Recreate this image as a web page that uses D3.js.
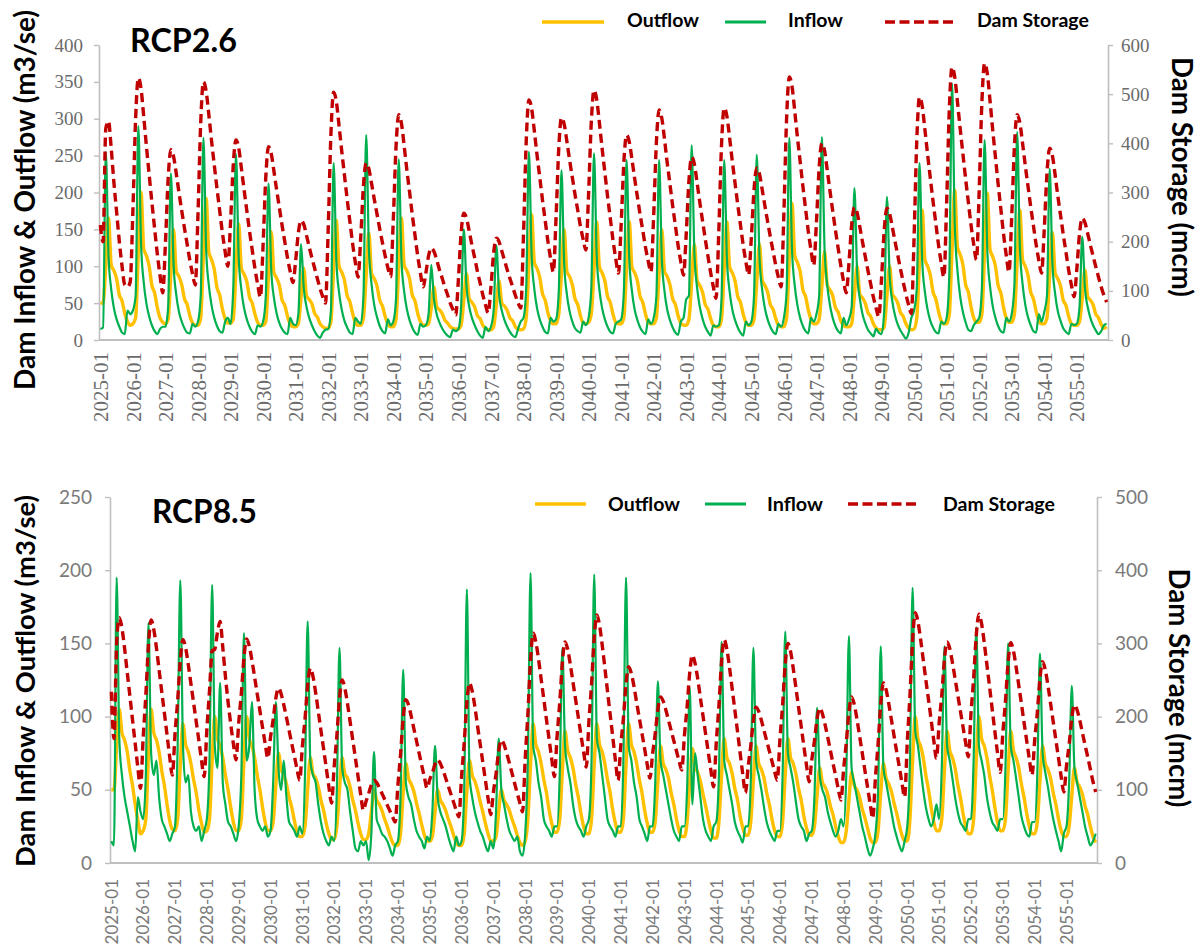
<!DOCTYPE html>
<html>
<head>
<meta charset="utf-8">
<script src="https://cdn.jsdelivr.net/npm/d3@7"></script>
<style>
  body { margin: 0; background: #fff; }
  svg { display: block; }
</style>
</head>
<body>
<svg id="chart" width="1202" height="947"></svg>
<script>
// monthly categories 2025-01 .. 2055-12
const months = []
for (let y = 2025; y <= 2055; y++) {
    for (let m = 1; m <= 12; m++) months.push(`${y}-${String(m).padStart(2, "0")}`)
}
const yearTicks = months.filter((m) => m.endsWith("-01"))

const seriesNames = ["Outflow", "Inflow", "Dam Storage"]
const leftTicks26 = [0, 50, 100, 150, 200, 250, 300, 350, 400]
const rightTicks26 = [0, 100, 200, 300, 400, 500, 600]
const leftTicks85 = [0, 50, 100, 150, 200, 250]
const rightTicks85 = [0, 100, 200, 300, 400, 500]

// RCP2.6 (m3/s and mcm), one row per year Jan..Dec
const rcp26Outflow = [
    50, 50, 100, 165, 102, 94, 83, 61, 53, 36, 25, 20,
    22, 30, 120, 200, 124, 114, 100, 74, 64, 44, 30, 24,
    22, 28, 90, 150, 93, 86, 75, 56, 48, 33, 23, 20,
    20, 30, 115, 192, 119, 109, 96, 71, 61, 42, 29, 23,
    23, 28, 94, 157, 97, 89, 79, 58, 50, 35, 24, 20,
    20, 25, 88, 147, 91, 84, 74, 54, 47, 32, 22, 18,
    18, 22, 58, 97, 60, 55, 49, 36, 31, 22, 18, 16,
    16, 25, 97, 162, 100, 92, 81, 60, 52, 36, 24, 20,
    20, 30, 87, 145, 90, 83, 73, 54, 46, 32, 22, 18,
    18, 28, 99, 165, 102, 94, 83, 61, 53, 36, 25, 20,
    20, 22, 43, 72, 45, 41, 36, 27, 23, 18, 16, 15,
    15, 20, 54, 90, 56, 51, 45, 33, 29, 20, 16, 14,
    14, 18, 48, 80, 50, 46, 40, 30, 26, 18, 15, 14,
    15, 30, 102, 170, 105, 97, 85, 63, 54, 37, 26, 22,
    22, 35, 90, 150, 93, 86, 75, 56, 48, 33, 23, 22,
    24, 35, 96, 160, 99, 91, 80, 59, 51, 35, 24, 22,
    22, 30, 96, 160, 99, 91, 80, 59, 51, 35, 24, 22,
    22, 30, 90, 150, 93, 86, 75, 56, 48, 33, 23, 20,
    20, 28, 78, 130, 81, 74, 65, 48, 42, 29, 20, 18,
    18, 28, 96, 160, 99, 91, 80, 59, 51, 35, 24, 20,
    20, 28, 78, 130, 81, 74, 65, 48, 42, 29, 20, 18,
    18, 30, 111, 185, 115, 105, 93, 68, 59, 41, 28, 22,
    22, 28, 72, 120, 74, 68, 60, 44, 38, 26, 20, 18,
    18, 22, 60, 100, 62, 57, 50, 37, 32, 22, 16, 14,
    14, 18, 60, 100, 62, 57, 50, 37, 32, 22, 16, 14,
    15, 30, 106, 176, 109, 100, 88, 65, 56, 39, 26, 22,
    22, 35, 122, 203, 126, 116, 102, 75, 65, 45, 30, 24,
    24, 35, 119, 199, 123, 113, 100, 74, 64, 44, 30, 24,
    24, 35, 106, 176, 109, 100, 88, 65, 56, 39, 26, 22,
    22, 30, 88, 146, 91, 83, 73, 54, 47, 32, 22, 20,
    20, 25, 57, 95, 59, 54, 48, 35, 30, 21, 16, 18
]
const rcp26Inflow = [
    15, 17, 255, 115, 69, 43, 28, 18, 10, 8, 40, 35,
    40, 60, 290, 131, 78, 49, 32, 20, 12, 8, 15, 18,
    18, 45, 226, 102, 61, 38, 25, 16, 10, 9, 22, 18,
    25, 60, 274, 123, 74, 47, 30, 19, 12, 10, 25, 30,
    22, 70, 252, 113, 68, 43, 28, 18, 11, 8, 20, 18,
    25, 60, 212, 95, 57, 36, 23, 15, 10, 8, 30, 22,
    20, 35, 130, 70, 45, 30, 20, 12, 6, 3, 10, 14,
    15, 40, 240, 108, 65, 41, 26, 17, 10, 8, 30, 25,
    22, 60, 278, 125, 75, 47, 31, 19, 12, 9, 28, 20,
    25, 55, 245, 110, 66, 42, 27, 17, 10, 7, 22, 18,
    20, 35, 102, 55, 35, 24, 16, 10, 6, 4, 14, 12,
    15, 45, 150, 72, 45, 30, 20, 12, 6, 3, 18, 12,
    18, 40, 128, 62, 40, 27, 18, 11, 6, 4, 15, 25,
    30, 70, 255, 115, 69, 43, 28, 18, 11, 9, 30, 25,
    28, 65, 230, 104, 62, 39, 25, 16, 12, 10, 25, 20,
    30, 70, 253, 114, 68, 43, 28, 18, 11, 9, 22, 25,
    28, 65, 244, 110, 66, 41, 27, 17, 11, 8, 28, 22,
    30, 60, 244, 110, 66, 41, 27, 17, 10, 7, 25, 30,
    55, 60, 264, 119, 71, 45, 29, 18, 11, 6, 20, 18,
    20, 55, 244, 110, 66, 41, 27, 17, 10, 6, 25, 20,
    25, 60, 251, 113, 68, 43, 28, 18, 11, 8, 22, 18,
    30, 65, 274, 123, 74, 47, 30, 19, 12, 9, 30, 25,
    35, 60, 275, 124, 74, 47, 30, 19, 12, 9, 30, 20,
    28, 45, 206, 93, 56, 35, 23, 14, 9, 5, 15, 10,
    8, 40, 194, 87, 52, 33, 21, 13, 7, 2, 10, 30,
    40, 70, 240, 108, 65, 41, 26, 17, 11, 9, 25, 22,
    30, 90, 348, 157, 94, 59, 38, 24, 14, 12, 20, 25,
    30, 70, 271, 122, 73, 46, 30, 19, 12, 10, 30, 25,
    35, 75, 282, 127, 76, 48, 31, 20, 12, 10, 35, 25,
    38, 60, 232, 104, 63, 39, 26, 16, 11, 8, 22, 20,
    22, 45, 140, 70, 45, 30, 20, 13, 8, 12, 20, 22
]
const rcp26Storage = [
    234, 200, 430, 445, 390, 320, 260, 200, 150, 112, 108, 118,
    263, 450, 533, 511, 454, 393, 336, 280, 227, 175, 131, 96,
    198, 329, 387, 373, 338, 299, 263, 228, 195, 162, 134, 112,
    257, 442, 525, 506, 458, 405, 356, 308, 263, 218, 180, 150,
    240, 356, 407, 391, 349, 305, 263, 221, 183, 145, 113, 87,
    194, 332, 393, 379, 343, 305, 269, 233, 200, 167, 139, 117,
    161, 218, 243, 235, 213, 189, 167, 146, 125, 105, 88, 75,
    225, 418, 504, 485, 436, 384, 335, 286, 241, 196, 158, 128,
    209, 314, 360, 348, 318, 286, 256, 226, 198, 171, 147, 129,
    244, 392, 458, 441, 395, 346, 301, 255, 213, 171, 136, 108,
    136, 171, 187, 180, 163, 143, 126, 108, 92, 75, 62, 51,
    123, 217, 258, 248, 221, 193, 167, 140, 116, 92, 71, 55,
    108, 177, 207, 200, 181, 162, 143, 125, 108, 91, 76, 65,
    213, 403, 488, 471, 425, 376, 331, 285, 243, 201, 166, 138,
    248, 389, 452, 439, 404, 366, 331, 296, 264, 231, 205, 183,
    297, 443, 508, 489, 441, 389, 341, 292, 248, 203, 166, 136,
    234, 361, 417, 403, 367, 328, 291, 255, 222, 188, 160, 138,
    254, 402, 468, 451, 408, 360, 317, 273, 233, 192, 159, 132,
    216, 324, 372, 358, 320, 280, 243, 206, 171, 137, 108, 85,
    220, 395, 472, 455, 411, 363, 319, 275, 234, 193, 159, 132,
    208, 306, 350, 338, 306, 273, 241, 210, 181, 152, 127, 108,
    257, 450, 535, 516, 466, 412, 363, 313, 267, 221, 183, 152,
    239, 350, 400, 385, 345, 303, 263, 224, 187, 151, 120, 96,
    157, 235, 270, 259, 230, 199, 170, 141, 114, 87, 65, 47,
    124, 224, 268, 257, 229, 200, 172, 144, 118, 93, 71, 54,
    208, 406, 494, 476, 428, 377, 329, 282, 238, 194, 157, 128,
    277, 470, 555, 535, 484, 430, 379, 328, 281, 234, 194, 163,
    303, 483, 563, 542, 487, 427, 372, 317, 266, 215, 172, 138,
    250, 394, 458, 442, 400, 355, 313, 271, 233, 194, 162, 136,
    225, 339, 390, 375, 336, 293, 254, 215, 179, 142, 112, 88,
    144, 216, 248, 239, 217, 193, 171, 149, 128, 108, 91, 77
]

// RCP8.5
const rcp85Outflow = [
    50, 50, 80, 105, 89, 84, 76, 63, 53, 40, 29, 20,
    22, 30, 74, 105, 89, 84, 76, 63, 53, 40, 29, 23,
    22, 30, 67, 95, 81, 76, 68, 57, 48, 36, 27, 21,
    22, 30, 70, 100, 85, 80, 72, 60, 50, 38, 28, 22,
    22, 30, 70, 100, 85, 80, 72, 60, 50, 38, 28, 22,
    22, 28, 53, 75, 64, 60, 54, 45, 38, 29, 21, 18,
    18, 25, 50, 72, 61, 58, 52, 43, 36, 27, 20, 16,
    16, 25, 50, 72, 61, 58, 52, 43, 36, 27, 20, 16,
    16, 20, 35, 50, 43, 40, 36, 30, 25, 19, 14, 12,
    12, 20, 48, 68, 58, 54, 49, 41, 34, 26, 19, 15,
    15, 18, 35, 50, 43, 40, 36, 30, 25, 19, 14, 12,
    12, 20, 49, 70, 60, 56, 50, 42, 35, 27, 20, 15,
    15, 18, 35, 50, 43, 40, 36, 30, 25, 19, 14, 12,
    15, 30, 67, 95, 81, 76, 68, 57, 48, 36, 27, 21,
    21, 30, 63, 90, 77, 72, 65, 54, 45, 34, 25, 20,
    20, 30, 67, 95, 81, 76, 68, 57, 48, 36, 27, 21,
    21, 30, 67, 95, 81, 76, 68, 57, 48, 36, 27, 21,
    21, 28, 56, 80, 68, 64, 58, 48, 40, 30, 22, 18,
    18, 28, 55, 78, 66, 62, 56, 47, 39, 30, 22, 17,
    17, 28, 60, 85, 72, 68, 61, 51, 43, 32, 24, 19,
    19, 28, 56, 80, 68, 64, 58, 48, 40, 30, 22, 18,
    18, 28, 60, 85, 72, 68, 61, 51, 43, 32, 24, 19,
    19, 25, 46, 65, 55, 52, 47, 39, 33, 25, 18, 14,
    14, 22, 43, 62, 53, 50, 45, 37, 31, 24, 17, 14,
    14, 22, 48, 68, 58, 54, 49, 41, 34, 26, 19, 15,
    15, 30, 70, 100, 85, 80, 72, 60, 50, 38, 28, 22,
    22, 30, 63, 90, 77, 72, 65, 54, 45, 34, 25, 20,
    20, 30, 70, 100, 85, 80, 72, 60, 50, 38, 28, 22,
    22, 30, 63, 90, 77, 72, 65, 54, 45, 34, 25, 20,
    20, 28, 56, 80, 68, 64, 58, 48, 40, 30, 22, 18,
    18, 25, 46, 65, 55, 52, 47, 39, 33, 25, 18, 14
]
const rcp85Inflow = [
    15, 12, 195, 85, 60, 45, 35, 25, 15, 8, 45, 35,
    30, 60, 164, 75, 60, 70, 45, 30, 25, 20, 15, 20,
    25, 80, 193, 80, 55, 60, 35, 25, 22, 25, 15, 22,
    30, 70, 190, 80, 65, 123, 55, 40, 28, 25, 20, 15,
    25, 60, 157, 70, 80, 110, 50, 30, 25, 22, 25, 18,
    22, 55, 110, 65, 50, 70, 45, 28, 25, 22, 18, 25,
    20, 60, 165, 70, 60, 55, 40, 28, 20, 15, 12, 18,
    15, 50, 147, 65, 55, 50, 35, 22, 10, 8, 15, 12,
    15, 2, 20, 76, 30, 25, 20, 18, 15, 10, 5, 12,
    15, 45, 132, 55, 45, 40, 30, 22, 18, 15, 10, 18,
    15, 35, 80, 45, 35, 30, 25, 18, 12, 8, 18, 12,
    15, 50, 187, 60, 45, 35, 28, 22, 18, 12, 8, 15,
    10, 35, 85, 50, 40, 30, 22, 18, 15, 18, 8, 5,
    20, 70, 198, 80, 70, 55, 45, 30, 25, 22, 18, 25,
    25, 60, 147, 80, 65, 55, 40, 30, 25, 22, 18, 25,
    30, 70, 197, 85, 75, 60, 45, 30, 25, 22, 18, 25,
    25, 70, 195, 80, 70, 55, 45, 30, 25, 20, 15, 25,
    25, 55, 124, 70, 60, 50, 40, 30, 22, 18, 15, 25,
    25, 50, 120, 40, 75, 60, 45, 30, 22, 18, 15, 25,
    28, 60, 151, 70, 60, 50, 40, 28, 22, 18, 14, 25,
    25, 55, 147, 70, 60, 50, 38, 28, 22, 18, 15, 22,
    22, 60, 158, 75, 65, 55, 42, 30, 25, 22, 15, 20,
    22, 45, 106, 60, 50, 45, 35, 28, 22, 18, 22, 30,
    25, 60, 155, 65, 55, 45, 35, 25, 18, 10, 5, 10,
    20, 50, 148, 65, 55, 45, 35, 25, 18, 12, 8, 15,
    25, 70, 188, 90, 80, 65, 50, 38, 30, 25, 30, 40,
    30, 65, 148, 80, 70, 58, 45, 35, 28, 25, 22, 30,
    30, 70, 161, 80, 70, 60, 45, 35, 28, 25, 22, 30,
    30, 65, 150, 80, 70, 58, 45, 32, 25, 20, 18, 28,
    28, 60, 143, 75, 62, 52, 40, 30, 22, 15, 8, 20,
    25, 55, 121, 65, 55, 45, 35, 25, 18, 12, 15, 20
]
const rcp85Storage = [
    234, 170, 300, 335, 321, 293, 260, 228, 195, 163, 130, 102,
    171, 229, 298, 332, 319, 294, 264, 234, 205, 175, 145, 120,
    176, 222, 277, 305, 294, 271, 245, 219, 193, 167, 140, 118,
    182, 235, 290, 292, 315, 330, 295, 255, 220, 190, 163, 141,
    191, 232, 281, 306, 296, 277, 254, 231, 208, 185, 163, 143,
    172, 196, 225, 239, 231, 216, 199, 181, 163, 146, 128, 113,
    159, 197, 243, 266, 255, 233, 207, 181, 156, 130, 104, 82,
    132, 174, 225, 250, 239, 218, 193, 168, 143, 118, 93, 72,
    84, 95, 107, 113, 110, 103, 95, 87, 79, 71, 63, 56,
    106, 148, 198, 223, 216, 201, 184, 167, 150, 133, 117, 102,
    114, 123, 135, 141, 136, 127, 116, 105, 94, 83, 72, 63,
    118, 164, 219, 246, 235, 214, 188, 163, 138, 113, 88, 66,
    97, 122, 153, 168, 162, 150, 137, 123, 109, 95, 82, 70,
    143, 204, 277, 314, 302, 279, 251, 224, 196, 169, 142, 118,
    173, 219, 274, 302, 292, 271, 247, 223, 199, 175, 152, 131,
    193, 245, 308, 339, 325, 298, 267, 235, 203, 172, 140, 113,
    160, 198, 245, 268, 259, 241, 219, 198, 177, 156, 134, 116,
    149, 177, 210, 227, 221, 209, 195, 181, 167, 153, 139, 127,
    174, 213, 260, 284, 273, 252, 226, 201, 176, 151, 126, 104,
    164, 215, 275, 305, 292, 267, 238, 209, 180, 150, 121, 96,
    131, 160, 195, 213, 207, 195, 181, 167, 153, 139, 125, 113,
    169, 216, 272, 300, 289, 266, 240, 213, 187, 160, 134, 111,
    141, 167, 197, 212, 204, 189, 172, 154, 136, 119, 101, 86,
    128, 164, 206, 227, 217, 197, 174, 151, 127, 104, 81, 61,
    117, 163, 218, 246, 237, 218, 196, 174, 152, 131, 109, 90,
    166, 229, 304, 342, 330, 306, 278, 250, 223, 195, 167, 143,
    191, 230, 278, 302, 293, 274, 252, 230, 208, 186, 164, 145,
    204, 252, 311, 340, 327, 301, 271, 241, 210, 180, 150, 124,
    177, 221, 274, 301, 290, 268, 243, 218, 192, 167, 142, 120,
    167, 205, 252, 275, 264, 243, 218, 193, 168, 143, 118, 97,
    133, 162, 198, 216, 209, 195, 178, 161, 145, 128, 111, 97
]

const colors = { outflow: "#FFC000", inflow: "#00B050", storage: "#C00000" }

const panels = [
    {
        title: "RCP2.6", titleX: 130, titleY: 52, titleW: 107,
        left: 99, right: 1108, top: 45, bottom: 340,
        leftMax: 400, rightMax: 600, leftTicks: leftTicks26, rightTicks: rightTicks26,
        tickFont: "'Liberation Serif', 'Times New Roman', serif", tickSize: 19, xTickSize: 21,
        tickColor: "#6b6b6b", leftPad: 11, rightPad: 8, xLabelY: 352,
        outflow: rcp26Outflow, inflow: rcp26Inflow, storage: rcp26Storage,
        legendY: 22, legendTextY: 27,
        legend: [[542, 604, 627, 72], [725, 766, 788, 55], [885, 953, 977, 112]],
        yTitle: { x: 35, y: 200, w: 380 }, rTitle: { x: 1172, y: 177, w: 240 }
    },
    {
        title: "RCP8.5", titleX: 152, titleY: 523, titleW: 105,
        left: 110, right: 1097, top: 497, bottom: 863,
        leftMax: 250, rightMax: 500, leftTicks: leftTicks85, rightTicks: rightTicks85,
        tickFont: "Lato, 'Open Sans', sans-serif", tickSize: 19, xTickSize: 17,
        tickColor: "#7a7a7a", leftPad: 13, rightPad: 13, xLabelY: 879,
        outflow: rcp85Outflow, inflow: rcp85Inflow, storage: rcp85Storage,
        legendY: 504, legendTextY: 511,
        legend: [[535, 586, 608, 72], [705, 746, 767, 56], [848, 918, 943, 112]],
        yTitle: { x: 35, y: 681, w: 372 }, rTitle: { x: 1169, y: 688, w: 239 }
    }
]

const svg = d3.select("#chart")
svg.append("rect").attr("width", 1202).attr("height", 947).attr("fill", "#fff")

// scale a bold label so it spans the width seen in the picture
const fitText = (sel, width) => {
    const w = sel.node().getComputedTextLength()
    const fs = parseFloat(sel.attr("font-size"))
    sel.attr("font-size", (fs * width) / w)
    return sel
}

const boldFont = "Lato, 'Open Sans', 'DejaVu Sans', sans-serif"

function drawPanel(p) {
    const g = svg.append("g")

    const x = d3.scalePoint().domain(months).range([p.left, p.right]).padding(0.5)
    const yL = d3.scaleLinear().domain([0, p.leftMax]).range([p.bottom, p.top])
    const yR = d3.scaleLinear().domain([0, p.rightMax]).range([p.bottom, p.top])

    const styleAxis = (sel) => {
        sel.select(".domain").attr("stroke", "#bfbfbf").attr("stroke-width", 1.6)
        sel.selectAll(".tick line").attr("stroke", "#bfbfbf").attr("stroke-width", 1.4)
        sel.selectAll("text")
            .attr("fill", p.tickColor)
            .attr("font-family", p.tickFont)
            .attr("font-size", p.tickSize)
    }

    g.append("g")
        .attr("transform", `translate(${p.left},0)`)
        .call(d3.axisLeft(yL).tickValues(p.leftTicks).tickSize(5).tickSizeOuter(0).tickPadding(p.leftPad))
        .call(styleAxis)

    g.append("g")
        .attr("transform", `translate(${p.right},0)`)
        .call(d3.axisRight(yR).tickValues(p.rightTicks).tickSize(5).tickSizeOuter(0).tickPadding(p.rightPad))
        .call(styleAxis)

    const xAxis = g.append("g")
        .attr("transform", `translate(0,${p.bottom})`)
        .call(d3.axisBottom(x).tickValues(yearTicks).tickSize(0).tickSizeOuter(0))
    xAxis.select(".domain").attr("d", `M${p.left},0H${p.right}`)
        .attr("stroke", "#bfbfbf").attr("stroke-width", 1.8)
    xAxis.selectAll("text")
        .attr("fill", p.tickColor)
        .attr("font-family", p.tickFont)
        .attr("font-size", p.xTickSize)
        .attr("text-anchor", "end")
        .attr("transform", `translate(0,${p.xLabelY - p.bottom}) rotate(-90)`)
        .attr("x", 0)
        .attr("y", 0)
        .attr("dy", "0.34em")

    const lineL = d3.line()
        .x((d, i) => x(months[i]))
        .y((d) => yL(d))
        .curve(d3.curveMonotoneX)
    const lineR = d3.line()
        .x((d, i) => x(months[i]))
        .y((d) => yR(d))
        .curve(d3.curveMonotoneX)

    g.append("path").datum(p.outflow)
        .attr("d", lineL).attr("fill", "none")
        .attr("stroke", colors.outflow).attr("stroke-width", 3.4)
        .attr("stroke-linejoin", "round")
    g.append("path").datum(p.inflow)
        .attr("d", lineL).attr("fill", "none")
        .attr("stroke", colors.inflow).attr("stroke-width", 2.2)
        .attr("stroke-linejoin", "round")
    g.append("path").datum(p.storage)
        .attr("d", lineR).attr("fill", "none")
        .attr("stroke", colors.storage).attr("stroke-width", 3.4)
        .attr("stroke-dasharray", "9,5")
        .attr("stroke-linejoin", "round")

    // title
    const t = g.append("text")
        .attr("x", p.titleX).attr("y", p.titleY)
        .attr("font-family", boldFont).attr("font-weight", "bold")
        .attr("font-size", 30).attr("fill", "#000")
        .text(p.title)
    fitText(t, p.titleW)

    // legend
    const legendColors = [colors.outflow, colors.inflow, colors.storage]
    const legendWidths = [3.6, 3, 3.6]
    p.legend.forEach(([x1, x2, tx, tw], i) => {
        const ln = g.append("line")
            .attr("x1", x1).attr("x2", x2)
            .attr("y1", p.legendY).attr("y2", p.legendY)
            .attr("stroke", legendColors[i]).attr("stroke-width", legendWidths[i])
        if (i === 2) ln.attr("stroke-dasharray", "10,4.5")
        const lt = g.append("text")
            .attr("x", tx).attr("y", p.legendTextY)
            .attr("font-family", boldFont).attr("font-weight", "bold")
            .attr("font-size", 18).attr("fill", "#000")
            .text(seriesNames[i])
        fitText(lt, tw)
    })

    // axis titles
    const yt = g.append("text")
        .attr("transform", `translate(${p.yTitle.x},${p.yTitle.y}) rotate(-90)`)
        .attr("text-anchor", "middle")
        .attr("font-family", boldFont).attr("font-weight", "bold")
        .attr("font-size", 24).attr("fill", "#000")
        .text("Dam Inflow & Outflow (m3/se)")
    fitText(yt, p.yTitle.w)

    const rt = g.append("text")
        .attr("transform", `translate(${p.rTitle.x},${p.rTitle.y}) rotate(90)`)
        .attr("text-anchor", "middle")
        .attr("font-family", boldFont).attr("font-weight", "bold")
        .attr("font-size", 24).attr("fill", "#000")
        .text("Dam Storage (mcm)")
    fitText(rt, p.rTitle.w)
}

panels.forEach(drawPanel)
</script>
</body>
</html>
